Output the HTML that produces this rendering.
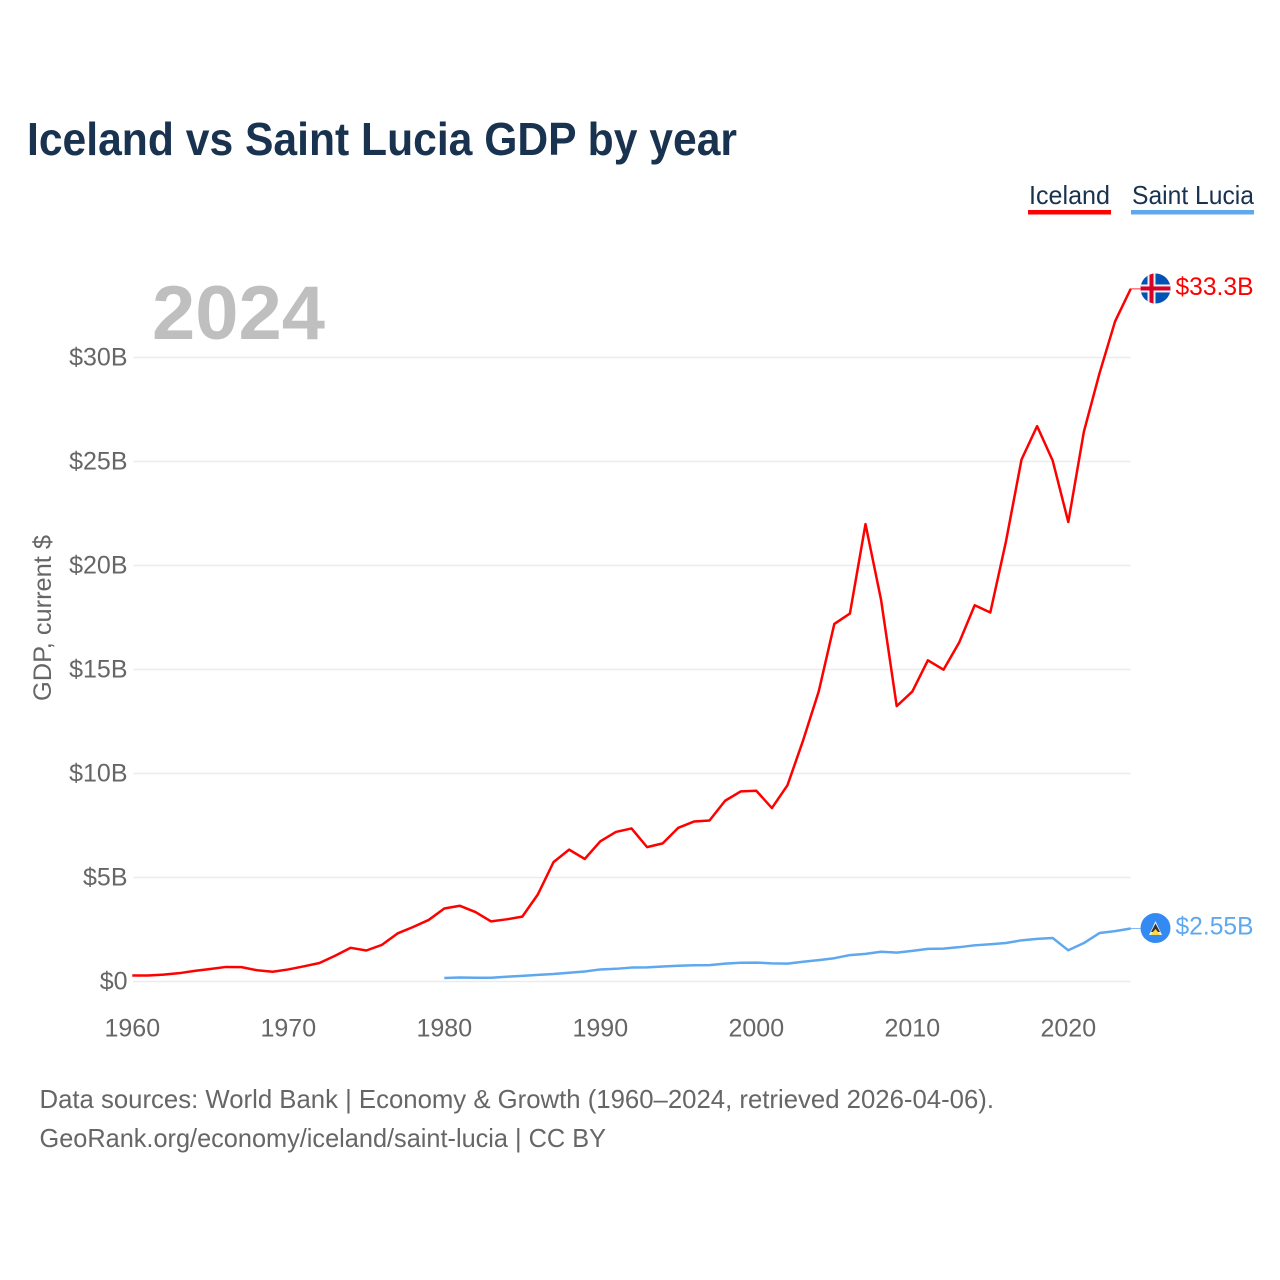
<!DOCTYPE html>
<html lang="en">
<head>
<meta charset="utf-8">
<title>Iceland vs Saint Lucia GDP by year</title>
<style>
html,body{margin:0;padding:0;background:#fff;width:1280px;height:1280px;overflow:hidden}
svg{display:block;font-family:"Liberation Sans",sans-serif}
</style>
</head>
<body>
<svg id="chart" width="1280" height="1280" viewBox="0 0 1280 1280" xmlns="http://www.w3.org/2000/svg">
  <defs>
    <clipPath id="clip-is"><circle cx="0" cy="0" r="15"/></clipPath>
    <clipPath id="clip-lc"><circle cx="0" cy="0" r="15"/></clipPath>
  </defs>
  <text x="27" y="155" font-size="46" font-weight="700" fill="#18324f" textLength="710" lengthAdjust="spacingAndGlyphs">Iceland vs Saint Lucia GDP by year</text>

  <g>
    <text x="1029" y="204" font-size="26" fill="#18324f" textLength="81" lengthAdjust="spacingAndGlyphs">Iceland</text>
    <rect x="1028" y="210" width="83" height="4.5" fill="#ff0000"/>
  </g>
  <g>
    <text x="1132" y="204" font-size="26" fill="#18324f" textLength="122" lengthAdjust="spacingAndGlyphs">Saint Lucia</text>
    <rect x="1131" y="210" width="123" height="4.5" fill="#5fa8ee"/>
  </g>

  <text x="152" y="339" font-size="76" font-weight="700" fill="#bfbfbf" textLength="173" lengthAdjust="spacingAndGlyphs">2024</text>
  <text transform="translate(51,701) rotate(-90)" x="0" y="0" font-size="25" fill="#666666" textLength="166" lengthAdjust="spacingAndGlyphs">GDP, current $</text>

  <g id="grid"></g>
  <g id="yticks"></g>
  <g id="xticks"></g>
  <g id="series"></g>

  <g id="flag-is">
    <g clip-path="url(#clip-is)">
      <rect x="-15" y="-15" width="30" height="30" fill="#0052b4"/>
      <rect x="-8" y="-15" width="8" height="30" fill="#f0f0f0"/>
      <rect x="-15" y="-4" width="30" height="8" fill="#f0f0f0"/>
      <rect x="-6" y="-15" width="4" height="30" fill="#d80027"/>
      <rect x="-15" y="-2" width="30" height="4" fill="#d80027"/>
    </g>
  </g>
  <text id="value-is" x="1175.5" font-size="25" fill="#ff0000" textLength="78" lengthAdjust="spacingAndGlyphs">$33.3B</text>

  <g id="flag-lc">
    <g clip-path="url(#clip-lc)">
      <rect x="-15" y="-15" width="30" height="30" fill="#338af3"/>
      <polygon points="0,-7 6.5,7 -6.5,7" fill="#f0f0f0"/>
      <polygon points="0,-4.5 4.5,4 -4.5,4" fill="#333333"/>
      <polygon points="0,1 5,7 -5,7" fill="#ffda44"/>
    </g>
  </g>
  <text id="value-lc" x="1175.5" font-size="25" fill="#5fa8ee" textLength="78" lengthAdjust="spacingAndGlyphs">$2.55B</text>

  <text x="39.5" y="1108" font-size="26" fill="#666666" textLength="954.5" lengthAdjust="spacingAndGlyphs">Data sources: World Bank | Economy &amp; Growth (1960–2024, retrieved 2026-04-06).</text>
  <text x="39.5" y="1147" font-size="26" fill="#666666" textLength="566.5" lengthAdjust="spacingAndGlyphs">GeoRank.org/economy/iceland/saint-lucia | CC BY</text>
</svg>
<script>
const icelandStartYear = 1960;
const icelandValues = [0.29,0.29,0.33,0.4,0.51,0.6,0.7,0.69,0.54,0.47,0.58,0.73,0.89,1.24,1.62,1.49,1.76,2.31,2.62,2.96,3.51,3.64,3.34,2.89,2.99,3.12,4.19,5.74,6.34,5.89,6.74,7.19,7.36,6.46,6.64,7.39,7.69,7.74,8.69,9.14,9.17,8.34,9.44,11.59,13.94,17.19,17.69,21.99,18.34,13.24,13.94,15.44,14.99,16.29,18.09,17.74,21.14,25.09,26.7,25.04,22.09,26.44,29.24,31.74,33.3];
const saintLuciaStartYear = 1980;
const saintLuciaValues = [0.17,0.19,0.18,0.18,0.23,0.27,0.32,0.36,0.42,0.48,0.58,0.61,0.67,0.68,0.72,0.76,0.78,0.79,0.86,0.9,0.91,0.87,0.86,0.95,1.03,1.12,1.27,1.33,1.43,1.39,1.47,1.57,1.58,1.65,1.74,1.79,1.85,1.98,2.05,2.09,1.5,1.85,2.33,2.42,2.55];
const yTickValues = [0,5,10,15,20,25,30];
const yTickLabels = ["$0","$5B","$10B","$15B","$20B","$25B","$30B"];
const xTickYears = [1960,1970,1980,1990,2000,2010,2020];

const NS = "http://www.w3.org/2000/svg";
function xScale(year){ return 132.3 + (year - 1960) * 15.6; }
function yScale(v){ return 981.5 - v * 20.8; }
function make(tag, attrs){
  const el = document.createElementNS(NS, tag);
  for (const k in attrs) el.setAttribute(k, attrs[k]);
  return el;
}
const grid = document.getElementById("grid");
const yticks = document.getElementById("yticks");
const xticks = document.getElementById("xticks");
const series = document.getElementById("series");

yTickValues.forEach(function(v, i){
  const line = make("line", {x1:133, x2:1131, y1:yScale(v), y2:yScale(v), stroke:"#ececec", "stroke-width":1.6});
  
  
  grid.appendChild(line);
  const t = make("text", {x:127.5, y:yScale(v)+8, "text-anchor":"end", "font-size":25, fill:"#666666"});
  
  
  t.textContent = yTickLabels[i];
  yticks.appendChild(t);
});
xTickYears.forEach(function(y){
  const t = make("text", {x:xScale(y), y:1036.5, "text-anchor":"middle", "font-size":25, fill:"#666666"});
  
  
  t.textContent = String(y);
  xticks.appendChild(t);
});
function pathFrom(values, start){
  return values.map(function(v, i){
    return (i ? "L" : "M") + xScale(start + i).toFixed(2) + " " + yScale(v).toFixed(2);
  }).join(" ");
}
const lineLc = make("path", {d:pathFrom(saintLuciaValues, saintLuciaStartYear), fill:"none", stroke:"#5fa8ee", "stroke-width":2.5, "stroke-linejoin":"round"});


series.appendChild(lineLc);
const lineIs = make("path", {d:pathFrom(icelandValues, icelandStartYear), fill:"none", stroke:"#ff0000", "stroke-width":2.5, "stroke-linejoin":"round"});


series.appendChild(lineIs);

const lastIs = yScale(icelandValues[icelandValues.length - 1]);
const lastLc = yScale(saintLuciaValues[saintLuciaValues.length - 1]);
const stubIs = make("line", {x1:1130, x2:1141, y1:lastIs, y2:lastIs, stroke:"#ff0000", "stroke-width":1, opacity:0.8});


series.appendChild(stubIs);
const stubLc = make("line", {x1:1130, x2:1141, y1:lastLc, y2:lastLc, stroke:"#5fa8ee", "stroke-width":1, opacity:0.8});


series.appendChild(stubLc);

document.getElementById("flag-is").setAttribute("transform", "translate(1155.5," + (lastIs - 0.4) + ")");
document.getElementById("flag-lc").setAttribute("transform", "translate(1155.5," + (lastLc - 0.4) + ")");
document.getElementById("value-is").setAttribute("y", lastIs + 6);
document.getElementById("value-lc").setAttribute("y", lastLc + 6);
</script>
</body>
</html>
